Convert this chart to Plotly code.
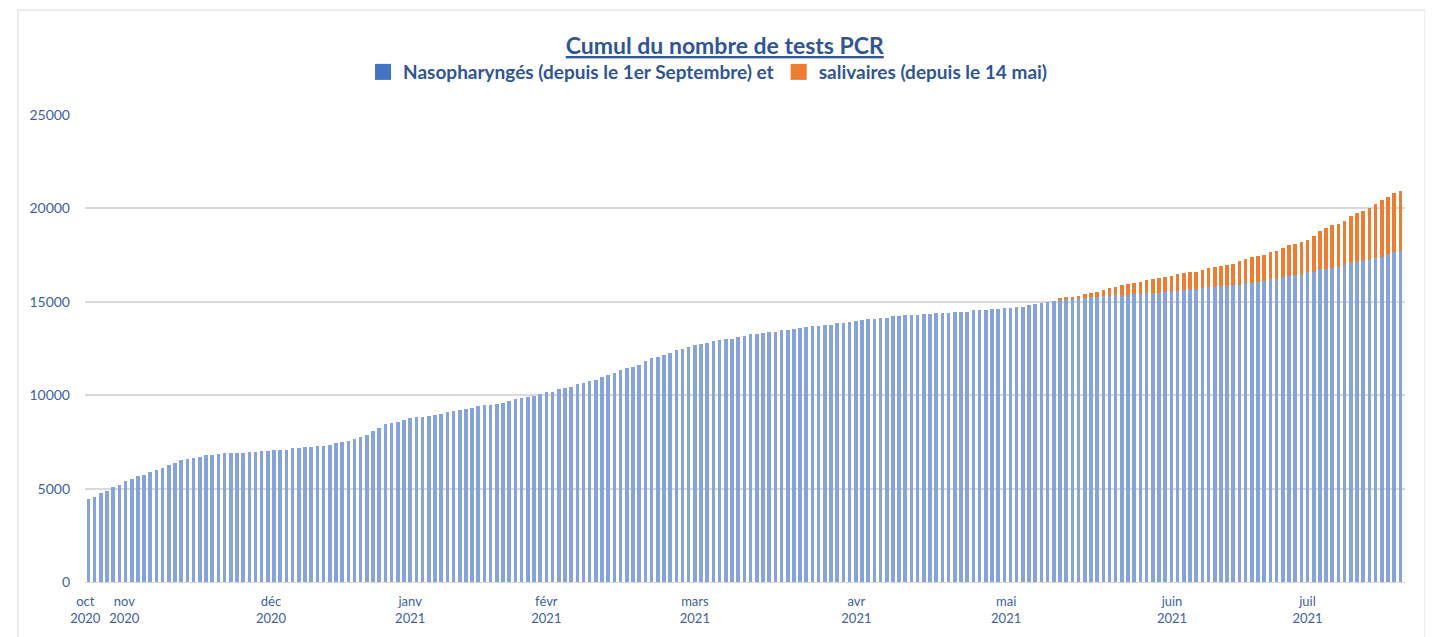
import plotly.graph_objects as go

# Cumulative nasopharyngeal PCR tests (one value per bar)
naso = [
    4430, 4550, 4750, 4870, 5070, 5190, 5400, 5530, 5660, 5740,
    5870, 6000, 6120, 6260, 6390, 6510, 6580, 6660, 6710, 6780,
    6780, 6850, 6900, 6900, 6900, 6900, 6960, 6960, 7030, 7030,
    7080, 7080, 7080, 7150, 7150, 7230, 7230, 7300, 7300, 7350,
    7440, 7490, 7550, 7640, 7740, 7890, 8070, 8260, 8440, 8510,
    8580, 8690, 8760, 8830, 8830, 8890, 8960, 9010, 9080, 9140,
    9210, 9260, 9330, 9400, 9470, 9490, 9550, 9580, 9710, 9780,
    9850, 9920, 9970, 10050, 10190, 10190, 10310, 10390, 10450, 10580,
    10640, 10760, 10830, 10970, 11100, 11170, 11350, 11440, 11490, 11620,
    11830, 12010, 12060, 12140, 12280, 12400, 12470, 12600, 12700, 12760,
    12810, 12890, 12940, 12990, 13020, 13120, 13180, 13260, 13260, 13350,
    13400, 13400, 13470, 13470, 13530, 13580, 13670, 13700, 13720, 13770,
    13770, 13850, 13850, 13900, 13970, 14030, 14090, 14090, 14150, 14150,
    14220, 14220, 14290, 14290, 14290, 14350, 14350, 14420, 14420, 14420,
    14470, 14470, 14470, 14540, 14540, 14540, 14610, 14610, 14690, 14690,
    14740, 14740, 14810, 14880, 14950, 15010, 15060, 15130, 15150, 15180,
    15200, 15220, 15240, 15260, 15290, 15310, 15340, 15360, 15380, 15400,
    15420, 15450, 15470, 15490, 15520, 15550, 15590, 15630, 15660, 15690,
    15720, 15770, 15790, 15830, 15850, 15890, 15920, 16000, 16030, 16070,
    16100, 16200, 16230, 16330, 16360, 16450, 16500, 16580, 16610, 16740,
    16760, 16820, 16850, 16990, 17080, 17180, 17190, 17240, 17360, 17420,
    17560, 17680, 17720,
]

# Cumulative salivary PCR tests (since 14 May), aligned with the same bars
saliv = [0] * 157 + [
    90, 70, 80, 90, 200, 250, 280, 360, 430, 470,
    520, 550, 590, 650, 700, 730, 780, 820, 850, 880,
    910, 930, 930, 970, 1020, 1070, 1090, 1120, 1150, 1280,
    1310, 1350, 1370, 1390, 1450, 1500, 1570, 1660, 1660, 1700,
    1740, 1910, 2050, 2200, 2270, 2330, 2340, 2500, 2590, 2690,
    2800, 2860, 3010, 3070, 3130, 3210,
]

bar_index = list(range(len(naso)))

series_names = ["Nasopharyngés (depuis le 1er Septembre) et",
                "salivaires (depuis le 14 mai)"]

month_labels = ["oct<br>2020", "nov<br>2020", "déc<br>2020", "janv<br>2021",
                "févr<br>2021", "mars<br>2021", "avr<br>2021", "mai<br>2021",
                "juin<br>2021", "juil<br>2021"]
month_pos = [-0.5, 5.8, 29.5, 52, 74, 98, 124.1, 148.3, 175.1, 197]

y_ticks = [0, 5000, 10000, 15000, 20000, 25000]

text_col = "#2F5597"
tick_col = "#40609E"
font_family = "Lato, 'Open Sans', sans-serif"

fig = go.Figure()
fig.add_trace(go.Bar(
    x=bar_index, y=naso, name=series_names[0], showlegend=False,
    marker=dict(color="#86A3DA", line=dict(width=0)),
))
fig.add_trace(go.Bar(
    x=bar_index, y=saliv, name=series_names[1], showlegend=False,
    marker=dict(color="#ED7D31", line=dict(width=0)),
))
# legend entries with large square keys, as in the original
for nm, col in zip(series_names, ["#4472C4", "#ED7D31"]):
    fig.add_trace(go.Scatter(
        x=[None], y=[None], mode="markers", name=nm,
        marker=dict(symbol="square", size=21, color=col),
    ))

fig.update_layout(
    barmode="stack",
    bargap=0.42,
    width=1425, height=629,
    margin=dict(l=77, r=28, t=107, b=55),
    paper_bgcolor="white",
    plot_bgcolor="white",
    font=dict(family=font_family, color=tick_col),
    title=dict(
        text="<u>Cumul du nombre de tests PCR</u>",
        x=0.503, xanchor="center",
        y=0.9396, yanchor="middle", yref="container",
        font=dict(size=23, color=text_col, family=font_family, weight="bold"),
    ),
    legend=dict(
        orientation="h",
        x=0.472, xanchor="center",
        y=1.092, yanchor="middle",
        font=dict(size=19, color=text_col, family=font_family, weight="bold"),
        bgcolor="rgba(0,0,0,0)",
        traceorder="normal",
        itemsizing="trace",
    ),
    showlegend=True,
    bargroupgap=0,
)

fig.update_xaxes(
    range=[-0.55, len(naso) - 0.25],
    tickmode="array", tickvals=month_pos, ticktext=month_labels,
    tickfont=dict(size=13, color=tick_col),
    showgrid=False, ticks="", zeroline=False,
    showline=True, linecolor="#D9D9D9", linewidth=1,
    ticklabelstandoff=7,
)
fig.update_yaxes(
    range=[0, 25000],
    tickmode="array", tickvals=y_ticks, ticktext=[str(v) for v in y_ticks],
    tickfont=dict(size=14, color=tick_col),
    showgrid=True, gridcolor="#D9D9D9", gridwidth=1.5,
    zeroline=False, ticks="", showline=False,
    ticklabelstandoff=14,
)

# light frame around the whole chart area
fig.add_shape(type="rect", xref="paper", yref="paper",
              x0=-0.0508, x1=1.0152, y0=-0.2, y1=1.2248,
              line=dict(color="#D9D9D9", width=1), fillcolor="rgba(0,0,0,0)",
              layer="below")

fig.write_html("out.html")
